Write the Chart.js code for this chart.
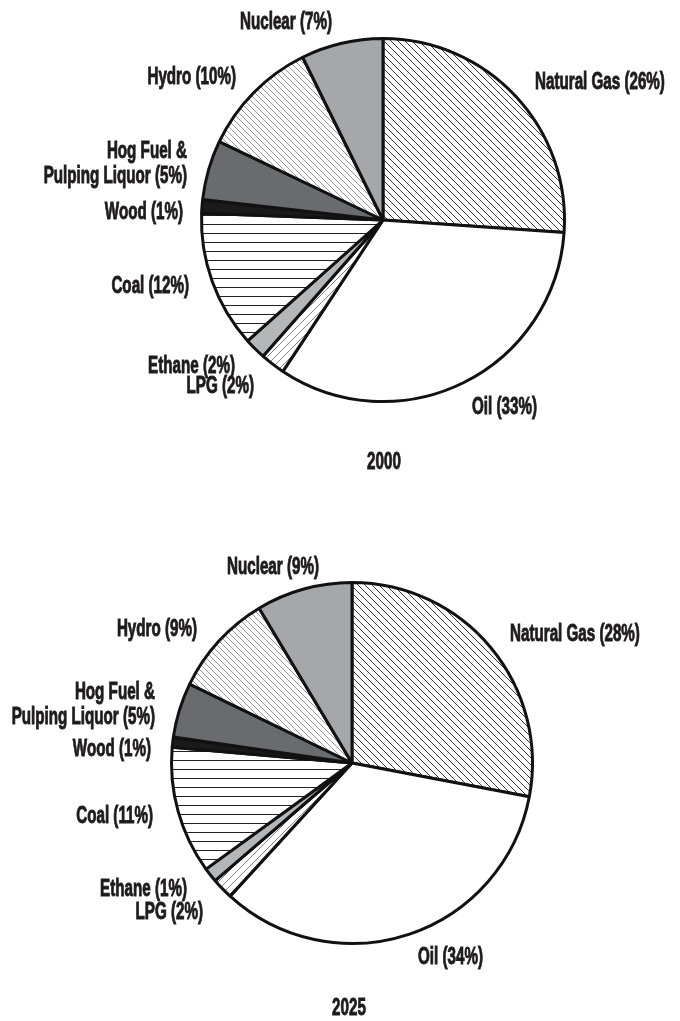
<!DOCTYPE html>
<html>
<head>
<meta charset="utf-8">
<script src="https://cdn.jsdelivr.net/npm/chart.js@4.4.1/dist/chart.umd.min.js"></script>
<style>
  body { margin: 0; background: #fff; }
  #wrap { position: relative; width: 680px; height: 1021px; }
  canvas { position: absolute; left: 0; }
</style>
</head>
<body>
<div id="wrap">
  <canvas id="pie2000" width="680" height="500" style="top:0"></canvas>
  <canvas id="pie2025" width="680" height="521" style="top:500px"></canvas>
</div>
<script>
// Fontes de energia - participação (%)
const categories = ["Natural Gas", "Oil", "LPG", "Ethane", "Coal", "Wood", "Hog Fuel &|Pulping Liquor", "Hydro", "Nuclear"];
const shares2000 = [26.1, 33.2, 2.2, 1.9, 12.2, 1.2, 5.3, 10.6, 7.3];
const shares2025 = [28, 33.8, 1.9, 1.3, 11.4, 0.9, 4.9, 9.2, 8.6];
const pct2000 = [26, 33, 2, 2, 12, 1, 5, 10, 7];
const pct2025 = [28, 34, 2, 1, 11, 1, 5, 9, 9];

// posição dos rótulos relativa ao centro da pizza
const spots2000 = [
  { dx: 152, dy: -137, align: "left" },
  { dx: 89, dy: 188, align: "left" },
  { dx: -129, dy: 167, align: "right" },
  { dx: -148, dy: 147, align: "right" },
  { dx: -194, dy: 67, align: "right" },
  { dx: -200, dy: -7, align: "right" },
  { dx: -196, dy: -68, align: "right" },
  { dx: -147, dy: -142, align: "right" },
  { dx: -97, dy: -197, align: "center" },
];
const spots2025 = [
  { dx: 158, dy: -128, align: "left" },
  { dx: 66, dy: 195, align: "left" },
  { dx: -149, dy: 150, align: "right" },
  { dx: -165, dy: 127, align: "right" },
  { dx: -199, dy: 54, align: "right" },
  { dx: -201, dy: -13, align: "right" },
  { dx: -197, dy: -70, align: "right" },
  { dx: -155, dy: -133, align: "right" },
  { dx: -79, dy: -195, align: "center" },
];

const FONT = 'bold 23px "Liberation Sans", Arial, sans-serif';
const SQUEEZE = 0.66;

function makePattern(ctx, kind, color, size, lw) {
  const c = document.createElement("canvas");
  c.width = size;
  c.height = size;
  const g = c.getContext("2d");
  g.fillStyle = "#fff";
  g.fillRect(0, 0, size, size);
  g.strokeStyle = color;
  g.lineWidth = lw;
  g.beginPath();
  for (let k = -1; k <= 1; k++) {
    if (kind === "back") {
      g.moveTo(k * size, 0);
      g.lineTo(k * size + size, size);
    } else if (kind === "fwd") {
      g.moveTo(k * size, size);
      g.lineTo(k * size + size, 0);
    }
  }
  if (kind === "horiz") {
    g.moveTo(0, size - 0.5);
    g.lineTo(size, size - 0.5);
  }
  g.stroke();
  return ctx.createPattern(c, "repeat");
}

function drawText(ctx, text, x, y, align) {
  ctx.save();
  ctx.translate(x, y);
  ctx.scale(SQUEEZE, 1);
  ctx.textAlign = align;
  ctx.fillText(text, 0, 0);
  ctx.strokeText(text, 0, 0);
  ctx.restore();
}

const labelPlugin = {
  id: "pieLabels",
  afterDraw(chart, args, opts) {
    const ctx = chart.ctx;
    const arc = chart.getDatasetMeta(0).data[0];
    const cx = arc.x;
    const cy = arc.y;
    ctx.save();
    ctx.fillStyle = "#1d1b1c";
    ctx.strokeStyle = "#1d1b1c";
    ctx.lineWidth = 0.9;
    ctx.font = FONT;
    ctx.textBaseline = "middle";
    categories.forEach((name, i) => {
      const s = opts.spots[i];
      const lines = name.split("|");
      lines[lines.length - 1] += " (" + opts.pct[i] + "%)";
      lines.forEach((line, j) => {
        drawText(ctx, line, cx + s.dx, cy + s.dy + j * 25, s.align);
      });
    });
    drawText(ctx, opts.title, cx + opts.titleDx, cy + opts.titleDy, "center");
    ctx.restore();
  },
};

function makePie(id, values, pct, spots, title, padding, titleDx, titleDy) {
  const canvas = document.getElementById(id);
  const ctx = canvas.getContext("2d");
  const fills = [
    makePattern(ctx, "back", "#3a3a3a", 7, 1),
    "#ffffff",
    makePattern(ctx, "fwd", "#777", 8, 0.9),
    "#b5b6b8",
    makePattern(ctx, "horiz", "#222", 9, 1),
    "#1a1a1a",
    "#6a6b6e",
    makePattern(ctx, "back", "#9a9a9a", 6, 1),
    "#a6a7aa",
  ];
  return new Chart(canvas, {
    type: "pie",
    data: {
      labels: categories.map((c) => c.replace("|", " ")),
      datasets: [
        {
          data: values,
          backgroundColor: fills,
          borderColor: "#111",
          borderWidth: 3,
        },
      ],
    },
    options: {
      responsive: false,
      animation: false,
      layout: { padding: padding },
      plugins: {
        legend: { display: false },
        tooltip: { enabled: false },
        pieLabels: { spots: spots, pct: pct, title: title, titleDx: titleDx, titleDy: titleDy },
      },
    },
    plugins: [labelPlugin],
  });
}

document.addEventListener("DOMContentLoaded", function () {
  makePie("pie2000", shares2000, pct2000, spots2000, "2000",
    { left: 200, right: 114, top: 37, bottom: 97 }, 1, 243);
  makePie("pie2025", shares2025, pct2025, spots2025, "2025",
    { left: 170, right: 146, top: 81, bottom: 76 }, -3, 246);
});
</script>
</body>
</html>
